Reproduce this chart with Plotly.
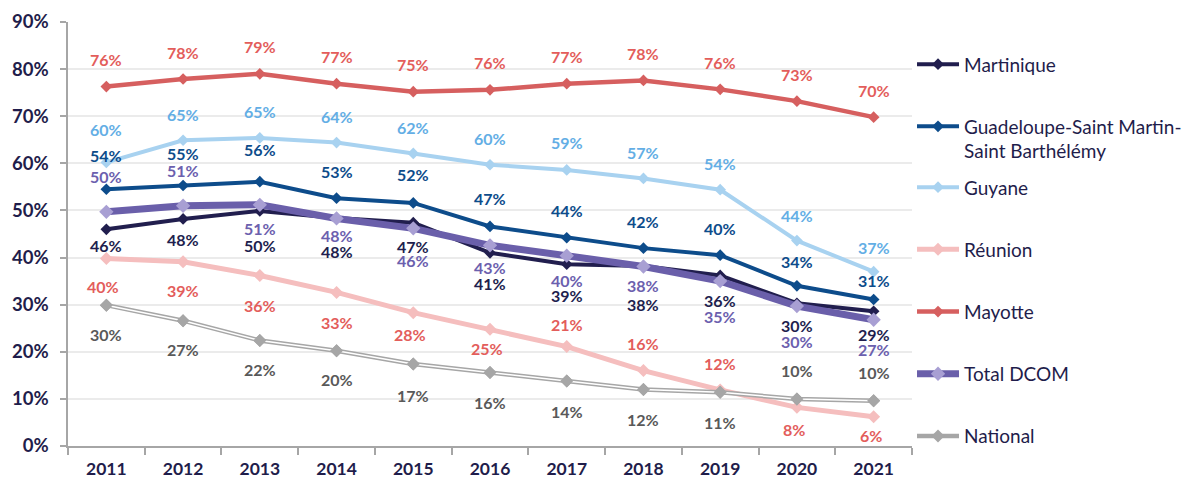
import plotly.graph_objects as go

years = list(range(2011, 2022))

martinique = [46.0, 48.2, 49.9, 48.4, 47.4, 41.0, 38.6, 38.2, 36.2, 30.3, 28.6]
guadeloupe = [54.5, 55.3, 56.1, 52.6, 51.6, 46.6, 44.2, 42.0, 40.5, 34.0, 31.1]
guyane = [60.2, 64.9, 65.4, 64.4, 62.1, 59.7, 58.6, 56.8, 54.4, 43.6, 37.0]
reunion = [39.8, 39.1, 36.2, 32.6, 28.3, 24.8, 21.1, 16.0, 11.9, 8.2, 6.2]
mayotte = [76.3, 77.9, 79.0, 76.9, 75.2, 75.6, 76.9, 77.6, 75.7, 73.2, 69.8]
total_dcom = [49.7, 51.0, 51.2, 48.3, 46.2, 42.6, 40.4, 38.1, 35.0, 29.7, 26.8]
national = [29.9, 26.6, 22.4, 20.2, 17.4, 15.6, 13.8, 12.0, 11.4, 10.0, 9.6]

# label offsets in pixels (positive = below the point)
off_martinique = [16, 21, 35, 34, 24, 31, 31, 38, 25, 22, 23]
off_guadeloupe = [-34, -32, -32, -27, -28, -28, -27, -27, -27, -24, -19]
off_guyane = [-33, -26, -26, -26, -26, -26, -27, -26, -26, -25, -24]
off_reunion = [28, 29, 30, 30, 22, 19, -22, -27, -26, 22, 19]
off_mayotte = [-27] * 11
off_dcom = [-35, -35, 24, 17, 32, 22, 25, 19, 35, 35, 30]
off_national = [29, 29, 29, 29, 31, 30, 31, 30, 30, -28, -28]

NAVY = '#1F1D4B'
FONT = 'Lato'
LABEL_SIZE = 16

series = [
    # name, values, line color, width, marker color, marker size, label color, offsets, legend
    ('Martinique', martinique, '#211E4E', 4, '#211E4E', 9, '#211E4E', off_martinique, 'legend'),
    ('Guadeloupe-Saint Martin-<br>Saint Barthélémy', guadeloupe, '#0D4C8B', 4, '#0D4C8B', 9, '#0D4C8B', off_guadeloupe, 'legend'),
    ('Guyane', guyane, '#A8D2F0', 4, '#A8D2F0', 9, '#63AEE5', off_guyane, 'legend2'),
    ('Réunion', reunion, '#F5BEBE', 5, '#F5BEBE', 10, '#E35D5B', off_reunion, 'legend2'),
    ('Mayotte', mayotte, '#D65F5F', 4.5, '#D65F5F', 9, '#E35D5B', off_mayotte, 'legend2'),
    ('Total DCOM', total_dcom, '#6A5FAA', 7, '#A89FD3', 11, '#6B60AE', off_dcom, 'legend2'),
]

fig = go.Figure()
annotations = []

for i, (name, vals, lc, lw, mc, ms, tc, offs, lg) in enumerate(series):
    fig.add_trace(go.Scatter(
        x=years, y=vals, name=name, mode='lines+markers',
        legend=lg, legendgroup=f'g{i}',
        line=dict(color=lc, width=lw),
        marker=dict(symbol='diamond', color=mc, size=ms, line=dict(width=0)),
        hoverinfo='skip'
    ))
    for yr, v, o in zip(years, vals, offs):
        xs = -3 if name == 'Réunion' and yr in (2011, 2015, 2016, 2020, 2021) else 0
        annotations.append(dict(
            x=yr, y=v, text=f'{round(v)}%', showarrow=False,
            yshift=-o, xshift=xs,
            font=dict(family=FONT, size=LABEL_SIZE, color=tc, weight='bold')
        ))

# National: double line (grey line with a thin white core)
fig.add_trace(go.Scatter(
    x=years, y=national, name='National', mode='lines+markers',
    legend='legend2', legendgroup='g6',
    line=dict(color='#A6A6A6', width=4.5),
    marker=dict(symbol='diamond', color='#A6A6A6', size=10),
    hoverinfo='skip'
))
fig.add_trace(go.Scatter(
    x=years, y=national, mode='lines', showlegend=False,
    line=dict(color='white', width=1.5), hoverinfo='skip'
))
fig.add_trace(go.Scatter(
    x=years, y=national, mode='markers', showlegend=False,
    marker=dict(symbol='diamond', color='#A6A6A6', size=10),
    hoverinfo='skip'
))
for yr, v, o in zip(years, national, off_national):
    annotations.append(dict(
        x=yr, y=v, text=f'{round(v)}%', showarrow=False, yshift=-o,
        font=dict(family=FONT, size=LABEL_SIZE, color='#595959', weight='bold')
    ))

# container-referenced legend: its left edge also sets the plot's right edge
legend_style = dict(
    xref='container', xanchor='left', yanchor='top',
    font=dict(family=FONT, size=19, color=NAVY),
    tracegroupgap=34.5, itemwidth=42, valign='top',
    maxheight=470, bgcolor='rgba(0,0,0,0)'
)

# page body has an 8px margin, so the figure is a little smaller than the window
fig.update_layout(
    width=1187, height=473,
    margin=dict(l=60, r=283, t=14, b=35),
    plot_bgcolor='white', paper_bgcolor='white',
    font=dict(family=FONT, color=NAVY),
    annotations=annotations,
    showlegend=True,
    legend=dict(x=0.7616, y=0.945, **legend_style),
    legend2=dict(x=0.7616, y=0.655, **legend_style),
    xaxis=dict(
        range=[2010.5, 2021.5], tickmode='array', tickvals=years,
        showgrid=False, zeroline=False, automargin=False,
        showline=True, linecolor='#A6A6A6', linewidth=1.5,
        ticks='',
        minor=dict(tick0=2010.5, dtick=1, ticks='outside', ticklen=7,
                   tickcolor='#A6A6A6', tickwidth=1.5, showgrid=False),
        tickfont=dict(family=FONT, size=17.5, color=NAVY, weight='bold'),
        ticklabelstandoff=6
    ),
    yaxis=dict(
        range=[0, 90], dtick=10, ticksuffix='%', automargin=False,
        showgrid=True, gridcolor='#EBEBEB', gridwidth=1.5,
        showline=True, linecolor='#A6A6A6', linewidth=1.5,
        ticks='outside', ticklen=6, tickcolor='#A6A6A6', tickwidth=1.5,
        tickfont=dict(family=FONT, size=18.5, color=NAVY, weight='bold'),
        ticklabelstandoff=8, zeroline=False
    )
)

fig.write_html("out.html")
